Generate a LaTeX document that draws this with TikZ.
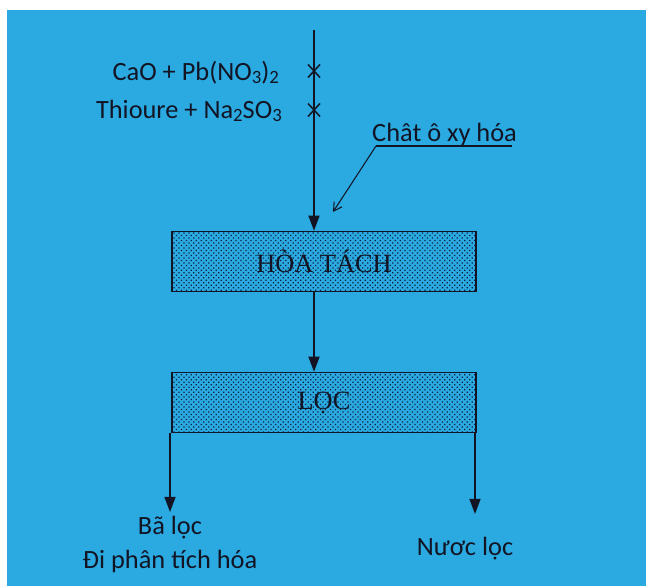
\documentclass[tikz,border=0pt]{standalone}
\usepackage{fontspec}
\setmainfont{Liberation Serif}
\newfontfamily\labelfont{Carlito}
\usetikzlibrary{arrows.meta,patterns.meta}
\definecolor{sheet}{RGB}{42,170,224}
\definecolor{ink}{RGB}{18,20,36}
\definecolor{dotink}{RGB}{16,30,64}
\newcommand\lowsub[1]{\raisebox{-0.2ex}{\fontsize{16}{16}\selectfont #1}}
\tikzset{
  lbl/.style={font=\labelfont\fontsize{22.5}{25}\selectfont, text=ink, inner sep=0pt},
  stagebox/.style={draw=ink, line width=1.3pt, minimum width=9.12cm, minimum height=1.8cm,
    inner sep=0pt, fill=sheet,
    postaction={pattern={Dots[distance=3pt, radius=0.75pt, angle=45]}, pattern color=dotink},
    font=\fontsize{22.5}{25}\selectfont, text=ink},
  flow/.style={draw=ink, line width=1.2pt, -{Triangle[length=13pt, width=9.5pt]}},
  lead/.style={draw=ink, line width=0.9pt},
  xmark/.style={draw=ink, line width=1.3pt}
}
\begin{document}
\begin{tikzpicture}[x=0.03cm, y=-0.03cm]
  \useasboundingbox (0,0) rectangle (646,586);
  \fill[white] (0,0) rectangle (646,586);
  \fill[sheet] (7,10) rectangle (646,586);

  % process stages
  \node[stagebox] (leach) at (324,261.5) {HÒA TÁCH};
  \node[stagebox] (filter) at (324,402.5) {LỌC};

  % feed line and reagents
  \coordinate (feed) at (314,30);
  \draw[flow] (feed) -- (feed |- leach.north);
  \draw[flow] (feed |- leach.south) -- (feed |- filter.north);

  \coordinate (x1) at (314,71);
  \coordinate (x2) at (314,110);
  \foreach \p in {x1,x2}{
    \draw[xmark] ([shift={(-6,-6.5)}]\p) -- ([shift={(6,6.5)}]\p);
    \draw[xmark] ([shift={(-6,6.5)}]\p) -- ([shift={(6,-6.5)}]\p);
  }
  \node[lbl, anchor=east] (r1) at (279,73) {CaO + Pb(NO\lowsub{3})\lowsub{2}};
  \node[lbl, anchor=east] (r2) at (282,111) {Thioure + Na\lowsub{2}SO\lowsub{3}};

  % oxidant leader
  \node[lbl, anchor=south west] (ox) at (372,146) {Chât ô xy hóa};
  \coordinate (oxknee) at (376,146);
  \coordinate (oxend) at (512,146);
  \coordinate (oxtip) at (333,212);
  \draw[lead] (oxend) -- (oxknee);
  \draw[lead, -{Straight Barb[length=7pt, width=8pt]}] (oxknee) -- (oxtip);

  % products
  \coordinate (solidend) at (170,512);
  \coordinate (liquidend) at (475,514);
  \draw[flow] (filter.south west -| solidend) -- (solidend);
  \draw[flow] (filter.south east -| liquidend) -- (liquidend);
  \node[lbl] (solid) at (170,528) {Bã lọc};
  \node[lbl] (solid2) at (170,561) {Đi phân tích hóa};
  \node[lbl] (liquid) at (465,549) {Nươc lọc};
\end{tikzpicture}
\end{document}
